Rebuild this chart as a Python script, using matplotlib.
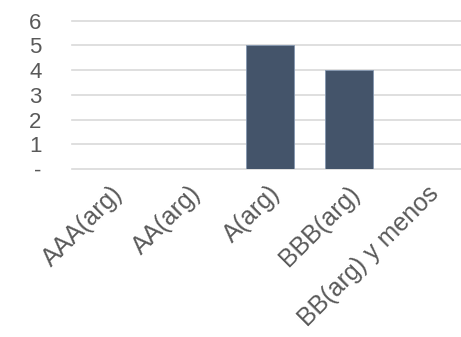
import matplotlib.pyplot as plt
import matplotlib.transforms as mtransforms

# datos
categorias = ['AAA(arg)', 'AA(arg)', 'A(arg)', 'BBB(arg)', 'BB(arg) y menos']
valores = [0, 0, 5, 4, 0]
ticks_y = [0, 1, 2, 3, 4, 5, 6]
etiquetas_y = ['-', '1', '2', '3', '4', '5', '6']

plt.rcParams['font.family'] = ['Liberation Sans', 'DejaVu Sans']

W, H = 461, 337
fig = plt.figure(figsize=(W / 100, H / 100), dpi=100)
ax = fig.add_axes([72 / W, 1 - 169 / H, 396 / W, (169 - 20.7) / H])

x = range(len(categorias))
ax.bar(x, valores, width=0.61, color='#44546A', edgecolor='#8497B0', linewidth=0.6, zorder=3)

ax.set_xlim(-0.5, len(categorias) - 0.5)
ax.set_ylim(0, 6)
ax.set_yticks(ticks_y)
ax.set_yticklabels(etiquetas_y)
ax.grid(axis='y', color='#D9D9D9', linewidth=1.2, zorder=0)
for gl in ax.get_ygridlines():
    gl.set_clip_on(False)

ax.set_xticks(list(x))
ax.set_xticklabels(categorias, rotation=45, ha='right', va='center',
                   rotation_mode='anchor')
ax.tick_params(axis='x', length=0, pad=15, labelsize=18, labelcolor='#595959')
ax.tick_params(axis='y', length=0, pad=22, labelsize=16, labelcolor='#595959')

# desplazar etiquetas a la derecha
desp = mtransforms.ScaledTranslation(5 / 72, 0, fig.dpi_scale_trans)
for lbl in ax.get_xticklabels():
    lbl.set_transform(lbl.get_transform() + desp)

for s in ax.spines.values():
    s.set_visible(False)

fig.savefig('out.png', dpi=100)
